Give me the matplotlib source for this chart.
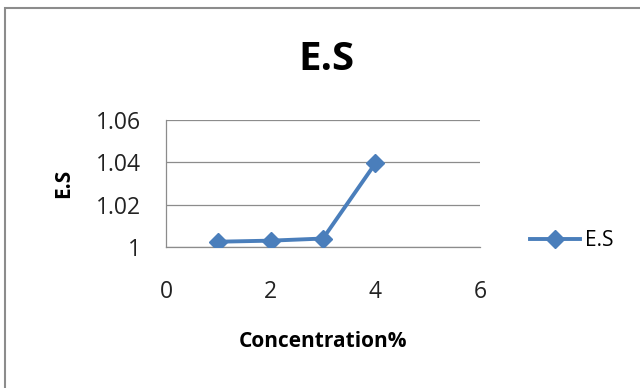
import matplotlib
matplotlib.use("Agg")
import matplotlib.pyplot as plt
from matplotlib.patches import Rectangle

concentration = [1, 2, 3, 4]
es_values = [1.0025, 1.003, 1.004, 1.0395]
x_ticks = [0, 2, 4, 6]
y_ticks = [1.00, 1.02, 1.04, 1.06]
y_tick_labels = ["1", "1.02", "1.04", "1.06"]

plt.rcParams['font.family'] = ['Open Sans', 'DejaVu Sans']

W, H = 640, 388
fig = plt.figure(figsize=(W / 100, H / 100), dpi=100)
fig.patch.set_facecolor("white")

# outer chart frame
fig.add_artist(Rectangle((5 / W, -0.05), 1.0, 1 - 8 / H + 0.05,
                         transform=fig.transFigure, fill=False,
                         edgecolor="#8c8c8c", linewidth=1.5))

ax = fig.add_axes([166 / W, 1 - 247 / H, (480 - 166) / W, (247 - 120) / H])
line_color = "#4a7ebb"
ax.plot(concentration, es_values, color=line_color, linewidth=2.8,
        marker="D", markersize=9.5, label="E.S", zorder=3)

ax.set_xlim(0, 6)
ax.set_ylim(1.0, 1.06)
ax.set_xticks(x_ticks)
ax.set_xticklabels([str(t) for t in x_ticks])
ax.set_yticks(y_ticks)
ax.set_yticklabels(y_tick_labels)
ax.tick_params(axis="both", length=0, labelsize=16.5, colors="#222222")
ax.tick_params(axis="x", pad=24)
ax.tick_params(axis="y", pad=18)
ax.grid(axis="y", color="#8c8c8c", linewidth=0.9)
ax.set_axisbelow(True)
for side in ("top", "right"):
    ax.spines[side].set_visible(False)
for side in ("left", "bottom"):
    ax.spines[side].set_color("#8c8c8c")
    ax.spines[side].set_linewidth(0.9)

ax.set_xlabel("Concentration%", fontsize=15, fontweight="bold", labelpad=19)
ax.set_ylabel("E.S", fontsize=15, fontweight="bold", labelpad=16)

fig.text(326 / W, 1 - 60 / H, "E.S", fontsize=29, fontweight="bold",
         ha="center", va="center")

ax.legend(loc="center left", bbox_to_anchor=(1.10, 0.05), frameon=False,
          fontsize=15, handlelength=2.4, handletextpad=0.25)

fig.savefig("out.png", dpi=100)
